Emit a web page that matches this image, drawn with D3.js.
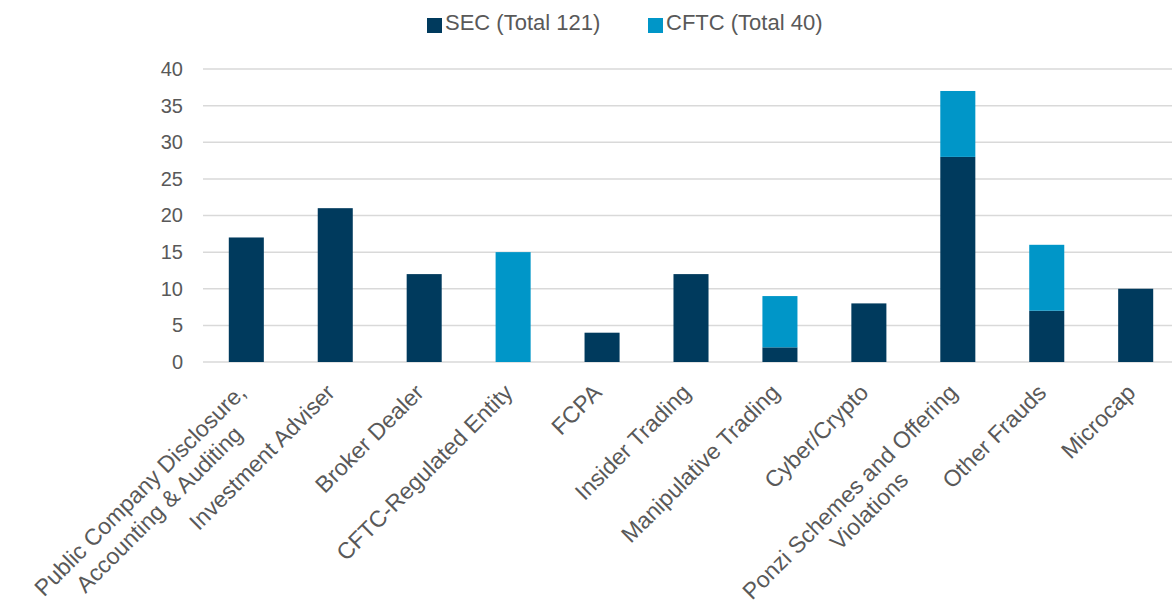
<!DOCTYPE html>
<html>
<head>
<meta charset="utf-8">
<script src="https://cdn.jsdelivr.net/npm/d3@7"></script>
<style>
  html, body { margin: 0; padding: 0; background: #ffffff; }
  svg { display: block; font-family: "Liberation Sans", Arial, sans-serif; }
</style>
</head>
<body>
<svg id="chart" width="1173" height="614"></svg>
<script>
const categories = [
  "Public Company Disclosure,\nAccounting & Auditing",
  "Investment Adviser",
  "Broker Dealer",
  "CFTC-Regulated Entity",
  "FCPA",
  "Insider Trading",
  "Manipulative Trading",
  "Cyber/Crypto",
  "Ponzi Schemes and Offering\nViolations",
  "Other Frauds",
  "Microcap"
];
const secValues  = [17, 21, 12, 0, 4, 12, 2, 8, 28, 7, 10];
const cftcValues = [0, 0, 0, 15, 0, 0, 7, 0, 9, 9, 0];
const seriesNames = ["SEC (Total 121)", "CFTC (Total 40)"];
const yTicks = [0, 5, 10, 15, 20, 25, 30, 35, 40];

const colors = ["#003A5D", "#0096C8"];
const textColor = "#595959";

const svg = d3.select("#chart");

const x = d3.scaleBand().domain(categories).range([203, 1179])
  .paddingInner(0.606).paddingOuter(0.29);
const y = d3.scaleLinear().domain([0, 40]).range([362, 69]);

// gridlines
svg.append("g").selectAll("line").data(yTicks).join("line")
  .attr("x1", 203).attr("x2", 1172)
  .attr("y1", d => y(d)).attr("y2", d => y(d))
  .attr("stroke", "#d9d9d9").attr("stroke-width", 1.5);

// y axis labels
const yAxis = d3.axisLeft(y).tickValues(yTicks).tickSize(0).tickPadding(0);
const yg = svg.append("g").attr("transform", "translate(183,0)").call(yAxis);
yg.select(".domain").remove();
yg.selectAll("text").attr("fill", textColor).attr("font-size", 20)
  .attr("font-family", "Liberation Sans, Arial, sans-serif");

// stacked data
const rows = categories.map((c, i) => ({ cat: c, sec: secValues[i], cftc: cftcValues[i] }));
const stack = d3.stack().keys(["sec", "cftc"])(rows);

svg.append("g").selectAll("g").data(stack).join("g")
  .attr("fill", (d, i) => colors[i])
  .selectAll("rect").data(d => d).join("rect")
  .attr("x", d => x(d.data.cat))
  .attr("width", x.bandwidth())
  .attr("y", d => y(d[1]))
  .attr("height", d => y(d[0]) - y(d[1]));

// x labels
const fs = 23, lh = 27;
const lab = svg.append("g");
categories.forEach(c => {
  const g = lab.append("g")
    .attr("transform", `translate(${x(c) + x.bandwidth() / 2 + 1},394) rotate(-45)`);
  const lines = c.split("\n");
  const texts = lines.map((l, i) => g.append("text")
    .attr("text-anchor", "end").attr("font-size", fs).attr("fill", textColor)
    .attr("y", i * lh).text(l));
  const widths = texts.map(t => t.node().getComputedTextLength());
  const maxW = d3.max(widths);
  texts.forEach((t, i) => t.attr("x", -(maxW - widths[i]) / 2));
});

// legend
const legendItems = [
  { name: seriesNames[0], color: colors[0], x: 427 },
  { name: seriesNames[1], color: colors[1], x: 648 }
];
const lg = svg.append("g");
legendItems.forEach(d => {
  lg.append("rect").attr("x", d.x).attr("y", 18).attr("width", 15).attr("height", 15).attr("fill", d.color);
  lg.append("text").attr("x", d.x + 18).attr("y", 29.5).attr("font-size", 22)
    .attr("fill", textColor).text(d.name);
});
</script>
</body>
</html>
